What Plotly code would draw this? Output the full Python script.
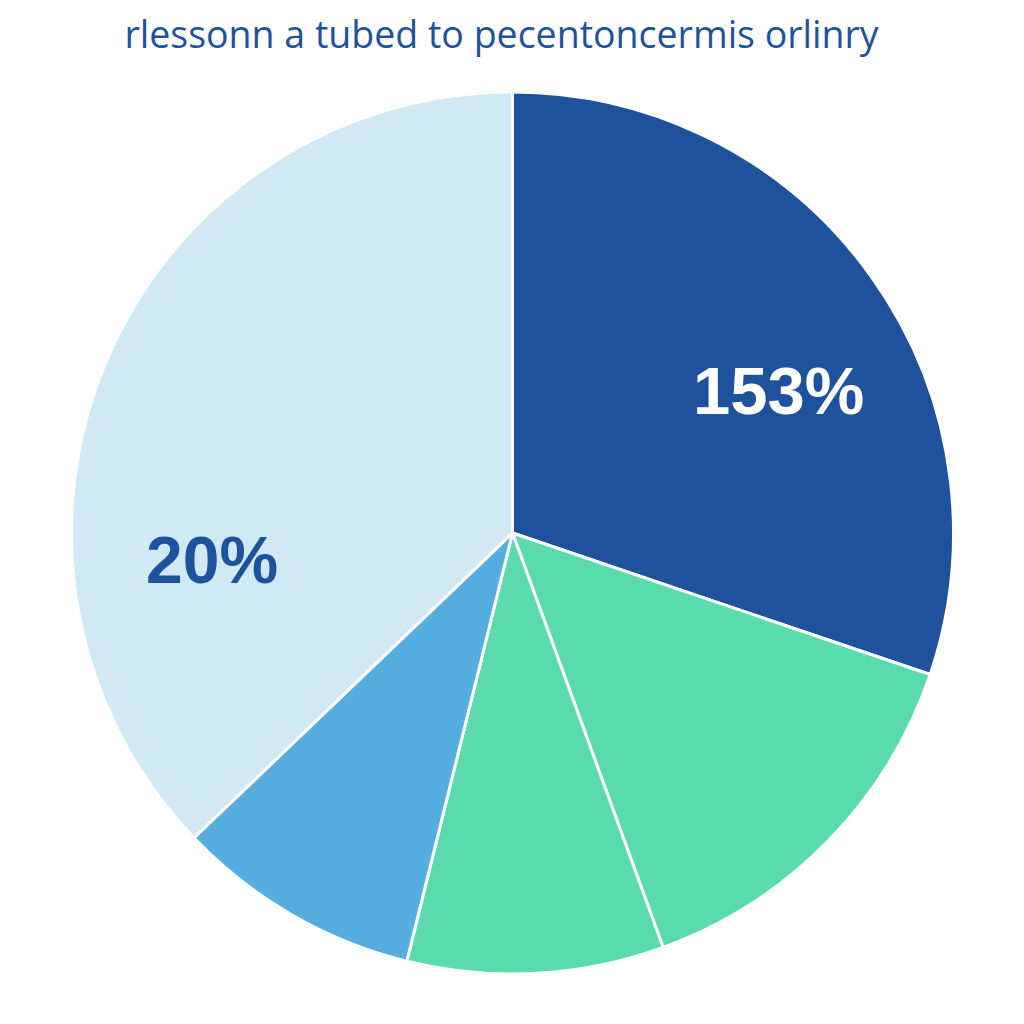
import plotly.graph_objects as go

labels = ["A", "B", "C", "D", "E"]
values = [30.2, 14.25, 9.4, 9.0, 37.15]
label_texts = ["153%", "", "", "", "20%"]
colors = ["#1f529c", "#5adbae", "#5adbae", "#55aedf", "#d1e9f5"]
title_text = "rlessonn a tubed to pecentoncermis orlinry"

fig = go.Figure(go.Pie(
    labels=labels,
    values=values,
    textinfo="none",
    sort=False,
    direction="clockwise",
    rotation=0,
    marker=dict(colors=colors, line=dict(color="#ffffff", width=3)),
    showlegend=False,
    domain=dict(x=[63.5/1024, 945.5/1024], y=[1-966/1024, 1-84/1024]),
))

# slice labels (positions are layout, text from data)
label_style = [
    dict(x=0.752, y=0.626, size=67, color="#ffffff"),
    None, None, None,
    dict(x=0.199, y=0.461, size=66, color="#1f529c"),
]
for txt, st in zip(label_texts, label_style):
    if st is None or not txt:
        continue
    fig.add_annotation(
        text=txt, x=st["x"], y=st["y"], xref="paper", yref="paper",
        xanchor="center", yanchor="middle", showarrow=False,
        font=dict(family="Liberation Sans, Arial, sans-serif", size=st["size"],
                  color=st["color"], weight="bold"),
    )

fig.update_layout(
    width=1024, height=1024,
    margin=dict(l=0, r=0, t=0, b=0),
    paper_bgcolor="#ffffff",
    title=dict(text=title_text, x=0.482, xanchor="center", y=1-27/1024, yanchor="middle",
               font=dict(family="Open Sans, sans-serif", size=37.5, color="#1f529c")),
)

fig.write_html("out.html")
